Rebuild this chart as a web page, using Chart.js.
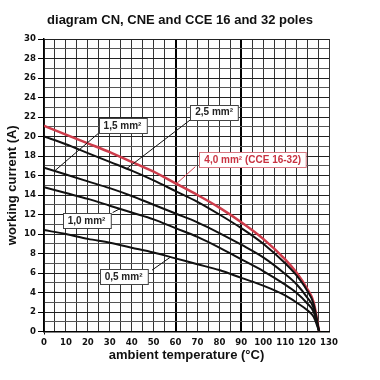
<!DOCTYPE html>
<html>
<head>
<meta charset="utf-8">
<script src="https://cdn.jsdelivr.net/npm/chart.js@4/dist/chart.umd.min.js"></script>
<style>
html,body{margin:0;padding:0;background:#fff;}
canvas{display:block;}
</style>
</head>
<body>
<canvas id="c" width="380" height="380"></canvas>
<script>
// ---- data ----
const chartTitle = 'diagram CN, CNE and CCE 16 and 32 poles';
const xAxisTitle = 'ambient temperature (°C)';
const yAxisTitle = 'working current (A)';
const temps   = [0, 10, 20, 30, 40, 50, 60, 70, 80, 90, 100, 110, 115, 120, 123, 125.5];
const cur05   = [10.4, 10.0, 9.5, 9.1, 8.6, 8.1, 7.5, 6.9, 6.3, 5.5, 4.7, 3.7, 3.0, 2.2, 1.5, 0];
const cur10   = [14.8, 14.2, 13.6, 12.9, 12.2, 11.5, 10.6, 9.7, 8.6, 7.4, 6.2, 4.8, 4.0, 2.9, 2.0, 0];
const cur15   = [16.8, 16.1, 15.4, 14.7, 13.9, 13.0, 12.1, 11.2, 10.1, 8.9, 7.6, 5.9, 4.9, 3.5, 2.4, 0];
const cur25   = [20.0, 19.2, 18.3, 17.4, 16.5, 15.5, 14.4, 13.3, 12.0, 10.6, 9.0, 7.0, 5.8, 4.2, 2.8, 0];
const cur40   = [21.1, 20.2, 19.3, 18.4, 17.4, 16.4, 15.2, 14.0, 12.7, 11.2, 9.5, 7.4, 6.1, 4.4, 3.0, 0];
const seriesLabels = ['0,5 mm²', '1,0 mm²', '1,5 mm²', '2,5 mm²', '4,0 mm² (CCE 16-32)'];
const xRange = [0, 130];
const yRange = [0, 30];

// ---- styling / layout ----
const BLACK = '#111';
const RED = 'rgb(205,60,75)';
const tickFont = {family: "'DejaVu Sans Condensed','Liberation Sans Narrow','DejaVu Sans',sans-serif", size: 9.5, weight: 'bold'};
const titleFont = {family: "'Liberation Sans',Arial,sans-serif", size: 13, weight: 'bold'};

const series = [cur05, cur10, cur15, cur25, cur40];
const datasets = series.map((arr, i) => ({
  label: seriesLabels[i],
  data: temps.map((t, k) => ({x: t, y: arr[k]})),
  borderColor: i === 4 ? RED : BLACK,
  borderWidth: i === 4 ? 2.5 : 2,
  pointRadius: 0,
  fill: false,
  cubicInterpolationMode: 'monotone'
}));

// label boxes: positions in data coordinates (box centre, leader from curve -> box)
const labelLayout = [
  {i: 0, cx: 36.3, cy: 5.65, from: [57.5, 7.6], to: [49.3, 6.3]},
  {i: 1, cx: 19.4, cy: 11.4, from: [34.7, 12.6], to: [31.3, 12.2]},
  {i: 2, cx: 35.8, cy: 21.15, from: [5, 16.5], to: [24.7, 20.3]},
  {i: 3, cx: 77.6, cy: 22.5, from: [37.7, 16.7], to: [66.7, 21.7]},
  {i: 4, cx: 95.2, cy: 17.6, from: [60.6, 15.2], to: [69.0, 16.9]}
];

const labelPlugin = {
  id: 'labels',
  afterDatasetsDraw(chart) {
    const {ctx, scales: {x, y}} = chart;
    ctx.save();
    labelLayout.forEach(l => {
      ctx.beginPath();
      ctx.strokeStyle = l.i === 4 ? RED : BLACK;
      ctx.lineWidth = 1;
      ctx.moveTo(x.getPixelForValue(l.from[0]), y.getPixelForValue(l.from[1]));
      ctx.lineTo(x.getPixelForValue(l.to[0]), y.getPixelForValue(l.to[1]));
      ctx.stroke();
    });
    ctx.font = "bold 10px 'Liberation Sans',Arial,sans-serif";
    ctx.textAlign = 'center';
    ctx.textBaseline = 'middle';
    labelLayout.forEach(l => {
      const txt = seriesLabels[l.i];
      const w = ctx.measureText(txt).width + 10;
      const h = 15;
      const px = x.getPixelForValue(l.cx), py = y.getPixelForValue(l.cy);
      const bx = Math.round(px - w / 2) + 0.5, by = Math.round(py - h / 2) + 0.5;
      ctx.fillStyle = '#fff';
      ctx.fillRect(bx, by, w, h);
      ctx.strokeStyle = l.i === 4 ? 'rgb(215,120,130)' : '#444';
      ctx.lineWidth = 1;
      ctx.strokeRect(bx, by, w, h);
      ctx.fillStyle = l.i === 4 ? 'rgb(200,50,65)' : '#222';
      ctx.fillText(txt, px, py + 0.5);
    });
    ctx.restore();
  },
  afterDraw(chart) {
    const {ctx} = chart;
    ctx.save();
    ctx.font = "bold 13px 'Liberation Sans',Arial,sans-serif";
    ctx.fillStyle = '#111';
    ctx.textAlign = 'center';
    ctx.textBaseline = 'middle';
    ctx.fillText(chartTitle, 180, 20);
    ctx.restore();
  }
};

new Chart(document.getElementById('c'), {
  type: 'line',
  data: {datasets},
  plugins: [labelPlugin],
  options: {
    responsive: false,
    animation: false,
    layout: {padding: {top: 39, right: 51, left: 0, bottom: 0}},
    plugins: {legend: {display: false}, tooltip: {enabled: false}, title: {display: false}},
    scales: {
      x: {
        type: 'linear',
        min: xRange[0], max: xRange[1],
        afterFit(s) { s.height = 48.5; },
        ticks: {
          stepSize: 5, autoSkip: false, maxRotation: 0, padding: 2,
          color: '#111', font: tickFont,
          callback: v => (v % 10 === 0 ? String(v) : '')
        },
        grid: {
          color: ctx => (ctx.tick && (ctx.tick.value === 60 || ctx.tick.value === 90)) ? '#000' : '#333',
          lineWidth: ctx => (ctx.tick && (ctx.tick.value === 60 || ctx.tick.value === 90)) ? 2 : 1,
          tickLength: 3,
          tickColor: ctx => (ctx.tick && ctx.tick.value === 0) ? '#000' : 'rgba(0,0,0,0)'
        },
        border: {color: '#000', width: 1.5},
        title: {display: true, text: xAxisTitle, color: '#111', font: titleFont, padding: {top: 0, bottom: 17}}
      },
      y: {
        type: 'linear',
        min: yRange[0], max: yRange[1],
        afterFit(s) { s.width = 44; },
        ticks: {
          stepSize: 1, autoSkip: false, padding: 2,
          color: '#111', font: tickFont,
          callback: v => (v % 2 === 0 ? String(v) : '')
        },
        grid: {
          color: ctx => (ctx.tick && ctx.tick.value % 2 === 0) ? '#222' : '#555',
          lineWidth: 1,
          tickLength: 6,
          tickColor: ctx => (ctx.tick && ctx.tick.value % 2 === 0) ? '#000' : 'rgba(0,0,0,0)'
        },
        border: {color: '#000', width: 1.5},
        title: {display: true, text: yAxisTitle, color: '#111', font: titleFont, padding: {top: 5, bottom: 0}}
      }
    }
  }
});
</script>
</body>
</html>
